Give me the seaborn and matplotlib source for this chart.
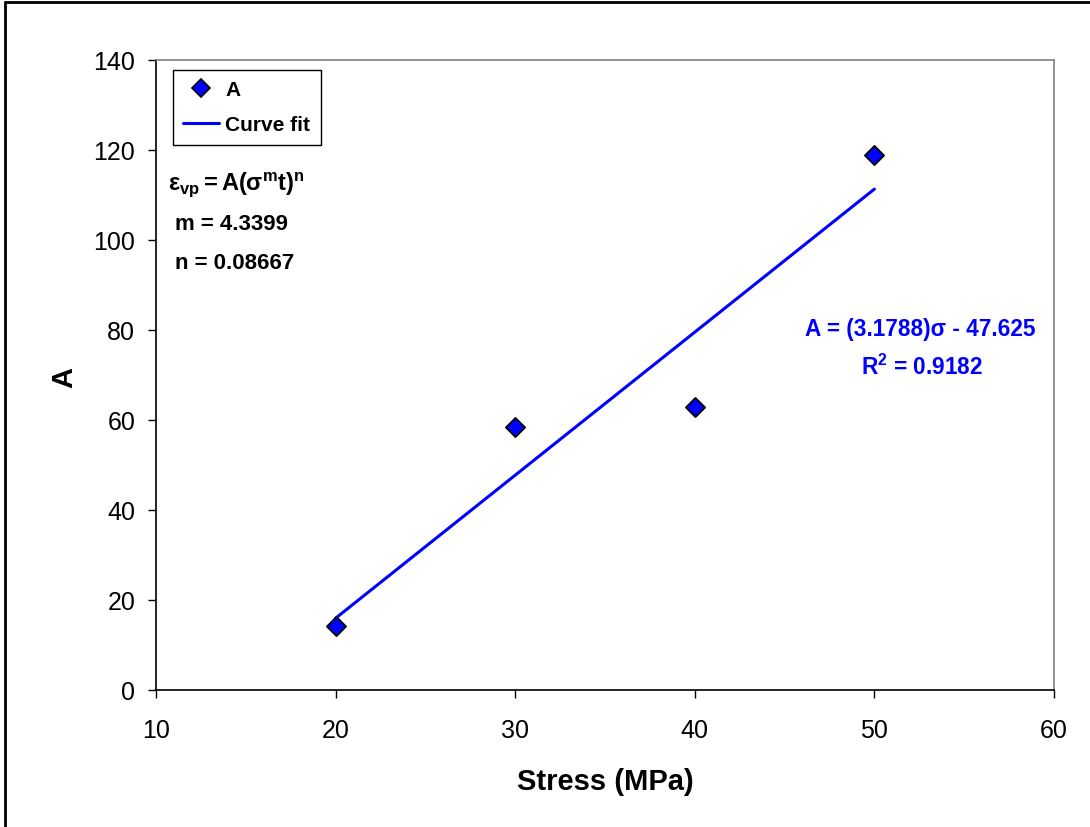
import matplotlib
matplotlib.use("Agg")
import matplotlib.pyplot as plt
import matplotlib.lines as mlines
import numpy as np
import pandas as pd
import seaborn as sns

# Measured creep coefficient A against applied stress
stress = [20, 30, 40, 50]
coef_a = [14.2, 58.5, 63.0, 118.8]

# Linear trend reported for the data
fit_slope = 3.1788
fit_intercept = -47.625
fit_r2 = 0.9182
fit_range = [20, 50]

# Power-law model parameters
model_m = 4.3399
model_n = 0.08667

x_ticks = [10, 20, 30, 40, 50, 60]
y_ticks = [0, 20, 40, 60, 80, 100, 120, 140]

sns.set_theme(style="white")
plt.rcParams["font.family"] = ["Liberation Sans", "DejaVu Sans"]
plt.rcParams["text.color"] = "black"
plt.rcParams["axes.labelcolor"] = "black"
plt.rcParams["xtick.color"] = "black"
plt.rcParams["ytick.color"] = "black"
plt.rcParams["mathtext.fontset"] = "custom"
plt.rcParams["mathtext.rm"] = "Liberation Sans"
plt.rcParams["mathtext.it"] = "Liberation Sans"
plt.rcParams["mathtext.bf"] = "Liberation Sans:bold"

fig = plt.figure(figsize=(10.9, 8.28), dpi=100)
ax = fig.add_axes([156 / 1090, 1 - 691 / 828, (1054 - 156) / 1090, (691 - 61) / 828])

pts = pd.DataFrame({"stress": stress, "A": coef_a})
fit_df = pd.DataFrame({"stress": fit_range,
                       "A": [fit_slope * s + fit_intercept for s in fit_range]})

sns.lineplot(data=fit_df, x="stress", y="A", color="#0000FF", linewidth=2.2,
             ax=ax, legend=False)
sns.scatterplot(data=pts, x="stress", y="A", marker="D", s=95, color="#0000FF",
                edgecolor="black", linewidth=1.3, ax=ax, legend=False, zorder=5)

ax.set_xlim(10, 60)
ax.set_ylim(0, 140)
ax.set_xticks(x_ticks)
ax.set_yticks(y_ticks)
ax.tick_params(axis="both", which="major", direction="out", length=6, width=1,
               color="black", labelcolor="black", labelsize=18,
               bottom=True, left=True)
ax.tick_params(axis="y", pad=9)
ax.tick_params(axis="x", pad=14)

for side in ["left", "bottom"]:
    ax.spines[side].set_color("black")
    ax.spines[side].set_linewidth(1.2)
for side in ["top", "right"]:
    ax.spines[side].set_color("#808080")
    ax.spines[side].set_linewidth(1.2)

ax.set_xlabel("Stress (MPa)", fontsize=21, fontweight="bold", color="black")
ax.set_ylabel("A", fontsize=21, fontweight="bold", color="black")
ax.xaxis.set_label_coords(0.5, -0.122)
ax.yaxis.set_label_coords(-0.087, 0.497)

# Legend
h_pts = mlines.Line2D([], [], linestyle="none", marker="D", markersize=9,
                      markerfacecolor="#0000FF", markeredgecolor="black",
                      markeredgewidth=1.2, label="A")
h_fit = mlines.Line2D([], [], color="#0000FF", linewidth=2.2, label="Curve fit")
leg = ax.legend(handles=[h_pts, h_fit], loc="upper left",
                bbox_to_anchor=(0.019, 0.984), borderaxespad=0, fancybox=False,
                framealpha=1, edgecolor="black", prop={"size": 15, "weight": "bold"},
                handlelength=1.7, handletextpad=0.3, borderpad=0.5,
                labelspacing=0.75)
leg.get_frame().set_linewidth(1.0)
for t in leg.get_texts():
    t.set_color("black")

# Model annotation
ax.text(10.65, 112.4, r"$\mathbf{\varepsilon_{vp} = A(\sigma^{m}t)^{n}}$",
        fontsize=17, ha="left", va="center", color="black")
ax.text(11.05, 103.6, f"m = {model_m}", fontsize=16, fontweight="bold",
        ha="left", va="center", color="black")
ax.text(11.05, 95.1, f"n = {model_n}", fontsize=16, fontweight="bold",
        ha="left", va="center", color="black")

# Trendline annotation
ax.text(52.55, 80.4, f"A = ({fit_slope})σ - {-fit_intercept}", fontsize=16.3,
        fontweight="bold", color="#0000FF", ha="center", va="center")
ax.text(52.65, 72.0, r"$\mathbf{R^{2}}$" + f" = {fit_r2}", fontsize=16.3,
        fontweight="bold", color="#0000FF", ha="center", va="center")

# Outer frame lines along the left and top edges
fig.add_artist(mlines.Line2D([5 / 1090, 5 / 1090], [0, 1 - 3 / 828],
                             transform=fig.transFigure, color="black", linewidth=2))
fig.add_artist(mlines.Line2D([5 / 1090, 1], [1 - 3 / 828, 1 - 3 / 828],
                             transform=fig.transFigure, color="black", linewidth=2))

fig.savefig("out.png", dpi=100, facecolor="white")
